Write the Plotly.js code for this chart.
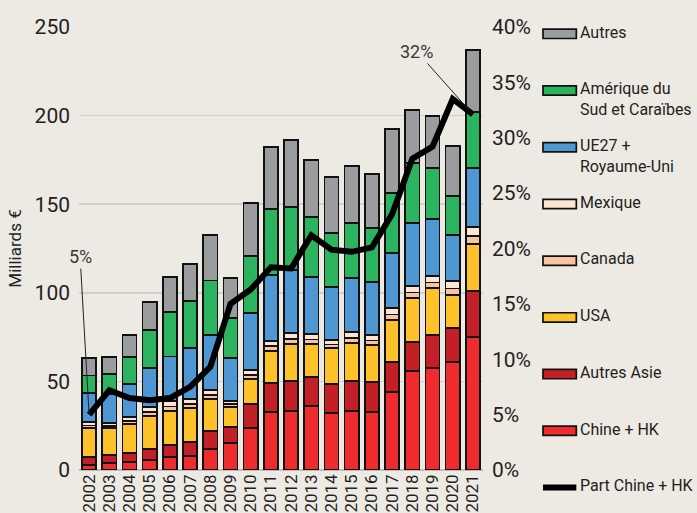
<!DOCTYPE html>
<html>
<head>
<meta charset="utf-8">
<script src="https://cdn.plot.ly/plotly-3.0.1.min.js"></script>
<style>
	html, body { margin: 0; padding: 0; background: #EDEAE4; }
	#chart { width: 697px; height: 513px; }
</style>
</head>
<body>
<div id="chart"></div>
<script>
// Years on the x axis.
var years = [ "2002", "2003", "2004", "2005", "2006", "2007", "2008", "2009", "2010", "2011",
			  "2012", "2013", "2014", "2015", "2016", "2017", "2018", "2019", "2020", "2021" ];

// Stack segments, Milliards €, bottom to top.
var chineHK 	= [ 2.8, 4.0, 4.5, 5.6, 7.3, 8.0, 11.8, 15.3, 23.7, 32.7, 33.3, 36.0, 32.2, 33.3, 32.9, 44.0, 55.9, 57.6, 60.9, 75.0 ];
var autresAsie 	= [ 4.5, 4.5, 5.1, 6.4, 6.7, 7.8, 10.2, 9.0, 13.5, 16.3, 16.9, 16.5, 16.3, 16.9, 16.7, 16.9, 16.3, 18.6, 19.2, 26.0 ];
var usa 		= [ 16.4, 15.2, 16.4, 18.5, 19.3, 19.0, 18.0, 11.3, 14.1, 18.2, 20.9, 18.5, 20.3, 21.5, 20.9, 23.8, 24.8, 26.5, 18.7, 26.5 ];
var canada 		= [ 1.5, 1.3, 1.8, 2.3, 2.6, 2.4, 2.3, 1.6, 2.3, 2.6, 2.8, 2.6, 2.1, 2.8, 2.6, 3.0, 3.1, 3.1, 3.6, 4.4 ];
var mexique 	= [ 1.8, 1.5, 2.2, 2.8, 3.1, 2.8, 2.7, 1.8, 2.8, 3.0, 3.4, 3.1, 2.5, 3.4, 3.1, 3.7, 3.7, 3.7, 4.3, 5.2 ];
var ue27RU 		= [ 16.4, 16.5, 18.5, 22.0, 25.0, 28.8, 31.0, 24.2, 32.2, 37.2, 35.6, 32.2, 29.9, 30.5, 29.8, 31.1, 35.6, 32.1, 25.9, 33.3 ];
var ameriqueSud = [ 9.9, 11.0, 15.3, 21.4, 25.0, 26.4, 31.0, 22.6, 32.2, 37.3, 35.5, 33.9, 30.4, 31.0, 30.6, 33.8, 34.0, 28.8, 22.0, 31.6 ];
var autres 		= [ 10.0, 9.8, 12.4, 15.8, 20.0, 21.0, 25.6, 22.6, 29.9, 35.0, 37.8, 32.1, 31.7, 32.2, 30.4, 36.1, 29.6, 29.4, 28.2, 35.0 ];

// Share of China + HK, percent (right axis).
var partChine 	= [ 5.0, 7.2, 6.5, 6.3, 6.5, 7.5, 9.3, 15.0, 16.3, 18.3, 18.2, 21.2, 19.9, 19.7, 20.1, 23.1, 28.1, 29.2, 33.5, 32.1 ];

// Series names and colours, bottom to top.
var seriesNames  = [ "Chine + HK", "Autres Asie", "USA", "Canada", "Mexique", "UE27 +<br>Royaume-Uni", "Amérique du<br>Sud et Caraïbes", "Autres" ];
var seriesValues = [ chineHK, autresAsie, usa, canada, mexique, ue27RU, ameriqueSud, autres ];
var seriesColors = [ "#EE2C2E", "#C21F26", "#FDC12A", "#F8C3A3", "#FDE4D3", "#4F97D3", "#2CB35F", "#9A9C9E" ];
var lineName = "Part Chine + HK";

var fontFam = "Roboto, 'Liberation Sans', sans-serif";
var inkColor = "#231F20";

var data = [];
for( let i = 0; i < seriesNames.length; i++ )
{
	data.push( {
		type: "bar",
		name: seriesNames[ i ],
		x: years,
		y: seriesValues[ i ],
		marker: { color: seriesColors[ i ], line: { color: "#111", width: 1.7 } },
		showlegend: false,
		hoverinfo: "skip"
	} );
}
data.push( {
	type: "scatter",
	mode: "lines",
	name: lineName,
	x: years,
	y: partChine,
	yaxis: "y2",
	line: { color: "#000", width: 6 },
	showlegend: false,
	hoverinfo: "skip"
} );

// Hand drawn legend, right of the plot (top entry is the top of the stack).
var legendTop = 0.9845,
	legendStep = 0.128,
	shapes = [],
	annotations = [];

var legendNames = seriesNames.slice().reverse().concat( [ lineName ] );
var legendColors = seriesColors.slice().reverse().concat( [ "#000" ] );
for( let i = 0; i < legendNames.length; i++ )
{
	let yc = legendTop - i * legendStep;
	if( i < legendNames.length - 1 )
	{
		shapes.push( {
			type: "rect", xref: "paper", yref: "paper",
			x0: 1.1485, x1: 1.2310, y0: yc - 0.0105, y1: yc + 0.0105,
			fillcolor: legendColors[ i ], line: { color: "#111", width: 1.7 }
		} );
	}
	else
	{
		shapes.push( {
			type: "line", xref: "paper", yref: "paper",
			x0: 1.1485, x1: 1.2310, y0: yc, y1: yc,
			line: { color: "#000", width: 6 }
		} );
	}
	annotations.push( {
		xref: "paper", yref: "paper",
		x: 1.234, y: yc + 0.03,
		xanchor: "left", yanchor: "top", align: "left",
		text: legendNames[ i ],
		showarrow: false,
		font: { family: fontFam, size: 16, color: inkColor }
	} );
}

// Value call-outs on the line (x given as category index).
annotations.push( {
	x: 0, y: partChine[ 0 ], xref: "x", yref: "y2",
	text: "5%", showarrow: true, arrowhead: 0, arrowwidth: 1, arrowcolor: "#222",
	ax: -9, ay: -158, standoff: 0,
	font: { family: fontFam, size: 18, color: "#3A3A3A" }
} );
annotations.push( {
	x: 19, y: partChine[ 19 ], xref: "x", yref: "y2",
	text: "32%", showarrow: true, arrowhead: 0, arrowwidth: 1, arrowcolor: "#222",
	ax: -56, ay: -63, standoff: 0,
	font: { family: fontFam, size: 18, color: "#3A3A3A" }
} );

var layout = {
	width: 697,
	height: 513,
	barmode: "stack",
	bargap: 0.3,
	paper_bgcolor: "#EDEAE4",
	plot_bgcolor: "#EDEAE4",
	margin: { l: 79, r: 214, t: 27, b: 43 },
	font: { family: fontFam, color: inkColor },
	xaxis: {
		type: "category",
		range: [ -0.5, years.length - 0.5 ],
		autorange: false,
		tickmode: "array",
		tickvals: years,
		ticktext: years,
		tickangle: -90,
		tickfont: { family: fontFam, size: 17, color: inkColor },
		showgrid: false,
		showline: false,
		ticks: "",
		automargin: false
	},
	yaxis: {
		range: [ 0, 250 ],
		dtick: 50,
		showgrid: true,
		gridcolor: "#CFCFCF",
		gridwidth: 1.6,
		zeroline: true,
		zerolinecolor: "#BDBDBD",
		zerolinewidth: 2,
		ticks: "",
		ticklabelstandoff: 8,
		tickfont: { family: fontFam, size: 21, color: inkColor },
		title: { text: "Milliards €", font: { family: fontFam, size: 17, color: inkColor }, standoff: 8 },
		automargin: false
	},
	yaxis2: {
		overlaying: "y",
		side: "right",
		range: [ 0, 40 ],
		dtick: 5,
		ticksuffix: "%",
		showgrid: false,
		zeroline: false,
		ticks: "",
		ticklabelstandoff: 8,
		tickfont: { family: fontFam, size: 21, color: inkColor },
		automargin: false
	},
	shapes: shapes,
	annotations: annotations
};

var config = { staticPlot: true };

Plotly.newPlot( "chart", data, layout, config );
</script>
</body>
</html>
